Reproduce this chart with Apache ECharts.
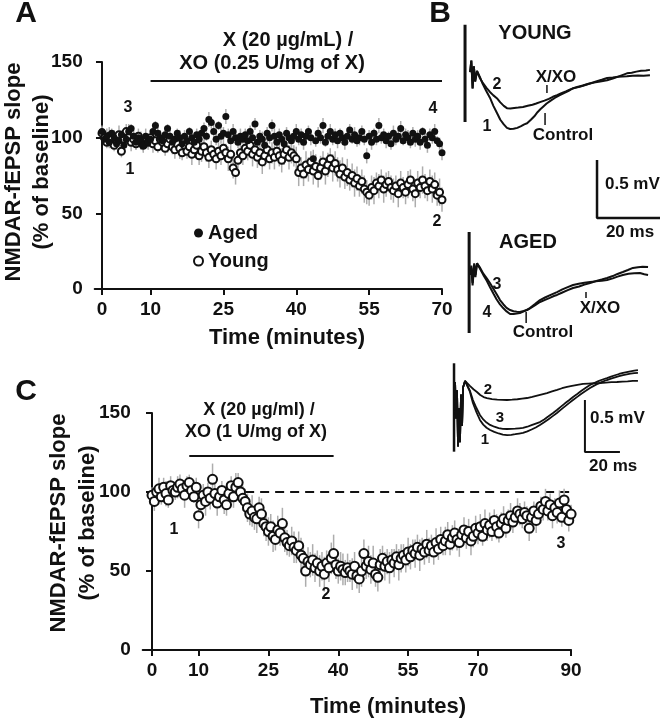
<!DOCTYPE html>
<html><head><meta charset="utf-8">
<script src="https://cdn.jsdelivr.net/npm/echarts@6/dist/echarts.min.js"></script>
<style>html,body{margin:0;padding:0;background:#fff}#c{width:667px;height:719px}</style>
</head><body><div id="c"></div>
<script>
// ---------- Panel A data (time step 0.5 min, 0..70) ----------
const tickA = [0, 10, 25, 40, 55, 70];
const yTicks = [0, 50, 100, 150];
const agedA = [
104,99,101,97,103,100,96,98,102,95,
99,104,106,101,97,100,98,95,101,97,
99,104,108,103,100,98,102,106,101,97,
99,103,100,96,101,98,104,100,97,102,
99,103,106,101,112,110,104,99,108,101,
103,114,102,98,104,100,97,101,99,102,
98,104,100,109,97,101,99,95,103,100,
108,101,97,102,99,96,103,100,98,101,
104,99,102,97,101,104,100,86,98,103,
100,108,97,101,104,99,102,98,103,100,
97,101,105,99,102,98,100,104,99,88,
101,97,103,99,108,100,102,98,101,96,
103,99,101,106,98,102,100,97,103,99,
101,97,104,99,95,102,100,104,98,96,90];
const agedErrA = [
4,3,5,4,3,5,4,4,3,5, 4,5,3,4,5,4,3,4,5,4, 5,4,3,5,4,4,5,3,4,5, 4,3,5,4,4,5,3,4,5,4,
5,4,4,3,5,4,5,4,3,5, 4,5,4,3,5,4,4,5,3,4, 5,4,3,4,5,4,5,3,4,4, 4,5,4,4,3,5,4,4,5,3,
5,4,4,5,3,4,5,6,4,4, 4,5,3,4,5,4,4,5,3,4, 5,4,4,3,5,4,5,4,4,5, 4,5,3,4,5,4,4,5,3,4,
5,4,4,5,3,4,5,4,4,5, 4,5,3,4,5,4,4,5,3,4,5];
const youngA = [
103,100,97,101,99,95,98,102,91,99,
104,100,97,99,96,101,98,95,99,97,
100,96,98,94,99,97,93,96,99,94,
92,96,93,90,95,91,94,89,92,95,
88,91,94,90,87,92,89,86,91,88,
93,90,86,89,80,77,85,90,88,93,
91,95,89,92,87,90,84,88,92,86,
90,87,91,88,85,89,92,87,90,88,
86,77,80,76,82,79,84,78,81,75,
80,84,78,82,86,80,83,79,76,80,
74,77,72,75,70,73,68,71,66,64,
62,67,65,70,68,72,66,69,71,67,
65,68,63,70,67,64,69,72,66,63,
70,67,72,68,65,71,66,69,62,64,59];
const youngErrA = [
4,5,4,6,5,4,5,6,4,5, 5,4,6,5,4,5,6,5,4,5, 5,6,5,4,6,5,5,6,4,5, 6,5,7,5,6,5,6,7,5,6,
6,7,5,6,7,6,5,7,6,6, 7,6,8,6,7,8,6,7,6,7, 6,7,8,6,7,6,8,7,6,7, 7,8,6,7,8,7,6,8,7,7,
8,9,7,8,9,8,7,9,8,8, 8,7,9,8,7,9,8,8,9,7, 8,9,7,8,9,8,7,8,9,8, 7,8,9,7,8,7,9,8,7,8,
8,7,9,8,7,8,9,7,8,9, 8,7,9,8,7,8,9,8,7,9,8];
const drugA = [10, 70];
const drugALevel = 137.5;

// ---------- Panel C data (time step 0.5 min, 0..90) ----------
const tickC = [0, 10, 25, 40, 55, 70, 90];
const valC = [
98,94,100,102,97,103,99,95,104,101,
100,103,105,102,98,104,106,101,97,103,
85,92,98,94,100,96,108,99,93,97,
101,95,92,99,104,97,103,106,100,96,
94,90,86,88,84,83,90,86,80,78,
75,78,72,70,76,74,80,71,68,66,
69,65,63,66,60,58,50,56,54,57,
52,55,50,53,48,55,52,58,61,54,
50,53,51,49,52,50,48,53,47,45,
50,61,53,56,51,55,48,46,54,58,
53,56,52,57,55,59,54,58,60,57,
62,59,63,61,65,60,64,62,67,63,
66,62,68,64,70,66,69,73,67,71,
74,70,68,73,76,71,75,69,72,77,
74,78,72,80,76,79,75,82,78,74,
80,83,77,82,85,81,84,88,86,83,
87,85,77,84,88,82,86,91,89,94,
88,92,85,90,87,93,84,95,89,82,86];
const errC = [
5,6,4,7,5,6,8,5,6,4, 5,7,6,5,8,6,5,7,4,6,
8,6,7,9,6,7,10,6,8,7, 6,9,7,8,6,7,9,6,7,8,
8,9,7,10,8,9,7,10,8,9, 9,8,10,7,9,8,10,9,8,7,
9,10,8,9,11,8,10,9,8,10, 9,8,10,9,11,8,9,10,12,9,
8,9,10,8,9,7,10,9,8,9, 10,9,8,10,9,11,8,9,10,8,
9,8,10,7,9,8,10,9,7,8, 9,8,7,9,8,10,7,8,9,8,
7,8,9,7,8,6,9,8,7,8, 8,7,9,6,8,7,8,9,7,8,
7,8,6,9,7,8,6,7,8,6, 7,8,6,7,8,7,6,8,7,6,
7,6,8,7,6,8,7,6,7,8, 6,7,8,6,7,8,6,7,8,7,6];
const drugC = [8, 39];
const drugCLevel = 122.8;
const baselineC = [20, 91];
const baselineLevel = 100;

// ---------- Panel B traces (ms, mV) ----------
const stimYoung = [[1.6, 0.41], [1.6, -0.43]];
const youngControl = [[3.2,0],[3.6,0.1],[4.0,-0.14],[4.4,0.05],[4.8,-0.08],[5.4,0.01],[6.3,-0.04],[7.2,-0.1],[8.3,-0.16],[9.5,-0.22],[10.6,-0.29],[11.7,-0.35],[12.8,-0.41],[13.9,-0.45],[14.9,-0.48],[15.9,-0.49],[17,-0.488],[18.2,-0.48],[19.4,-0.465],[20.4,-0.45],[21.3,-0.44],[22.5,-0.41],[23.6,-0.38],[24.6,-0.345],[25.5,-0.32],[26.3,-0.3],[27.5,-0.27],[28.8,-0.245],[30.2,-0.22],[31.7,-0.197],[33,-0.18],[34.5,-0.16],[35.9,-0.138],[37.5,-0.125],[39,-0.115],[40.8,-0.1],[42.5,-0.09],[44.5,-0.08],[46.7,-0.07],[48.5,-0.055],[50,-0.04],[51.5,-0.025],[53,-0.01],[54.5,-0.005],[56,0.005],[57.5,0.012],[59,0.015],[60.3,0.02]];
const youngXXO = [[3.2,0],[3.6,0.1],[4.0,-0.14],[4.4,0.05],[4.8,-0.08],[5.4,0.01],[6.3,-0.05],[7.3,-0.095],[8.4,-0.135],[9.5,-0.17],[10.6,-0.2],[11.7,-0.224],[12.8,-0.26],[13.9,-0.29],[14.9,-0.31],[16,-0.312],[17.2,-0.308],[18.5,-0.305],[20,-0.3],[21.5,-0.29],[23,-0.28],[24.2,-0.27],[25.4,-0.258],[26.8,-0.245],[28.2,-0.23],[29.5,-0.212],[30.8,-0.197],[32.2,-0.18],[33.6,-0.165],[35,-0.148],[36.5,-0.135],[38,-0.125],[39.8,-0.11],[41.5,-0.095],[43.2,-0.08],[45,-0.065],[46.7,-0.05],[48.5,-0.045],[50.2,-0.04],[51.6,-0.038],[53,-0.035],[54.8,-0.03],[56.5,-0.028],[58.3,-0.03],[60.3,-0.026]];
const youngTickXXO = [[27.6, -0.11], [27.6, -0.18]];
const youngTickControl = [[27.0, -0.352], [27.0, -0.455]];
const stimAged = [[2.9, 0.39], [2.9, -0.48]];
const agedTrace3 = [[3.2,0.02],[3.6,0.1],[4.0,-0.05],[4.5,0.12],[4.9,0.02],[5.4,0.12],[6.4,0.08],[7.4,0.03],[8.5,-0.01],[9.5,-0.05],[10.6,-0.1],[11.7,-0.15],[12.7,-0.197],[13.8,-0.235],[14.8,-0.265],[15.9,-0.283],[17,-0.293],[18,-0.298],[19,-0.3],[20.2,-0.292],[21.3,-0.283],[22.6,-0.262],[24,-0.238],[25.4,-0.214],[27,-0.195],[28.5,-0.178],[30,-0.16],[30.8,-0.153],[32.5,-0.132],[34.2,-0.112],[35.9,-0.093],[37.8,-0.08],[39.5,-0.064],[41.3,-0.05],[43,-0.035],[45,-0.02],[46.7,-0.007],[48.5,0.01],[50,0.028],[51.7,0.045],[53.3,0.062],[54.9,0.08],[56.5,0.086],[58,0.09],[59.7,0.088]];
const agedTrace4 = [[3.2,0.02],[3.6,0.08],[4.0,-0.07],[4.5,0.1],[4.9,0],[5.4,0.12],[6.4,0.07],[7.4,0.02],[8.5,-0.03],[9.5,-0.084],[10.6,-0.14],[11.6,-0.19],[12.7,-0.235],[13.7,-0.266],[14.8,-0.295],[15.9,-0.317],[17,-0.318],[18,-0.314],[19,-0.309],[20.6,-0.29],[22.2,-0.266],[23.8,-0.232],[25.4,-0.197],[27,-0.175],[28.8,-0.152],[30.8,-0.128],[32.5,-0.105],[34.2,-0.085],[35.9,-0.067],[37.7,-0.057],[39.5,-0.048],[41.3,-0.041],[43,-0.036],[45,-0.03],[46.7,-0.024],[48.5,-0.01],[50,0.005],[51.7,0.019],[53.5,0.03],[55.3,0.034],[57.1,0.036],[58.5,0.025],[59.7,0.019]];
const agedTickControl = [[21.0, -0.30], [21.0, -0.395]];
const agedTickXXO = [[40.0, -0.128], [40.0, -0.179]];
const scaleB = {ms: 20, mv: 0.5, atMs: 43.5, atMv: -1.257};

// ---------- Panel C inset traces (ms, mV) ----------
const stimC = [[2.3, 0.18], [2.3, -0.67]];
const volleyC = [[2.9,0],[3.4,-0.35],[4.0,-0.08],[4.6,-0.62],[5.1,-0.25],[5.7,-0.58],[6.3,-0.12],[6.9,-0.42],[7.5,-0.05],[8.6,0.01],[9.7,0]];
const cTrace2 = [[11.5,-0.04],[13.4,-0.07],[15.4,-0.096],[17.3,-0.125],[19.2,-0.145],[21.1,-0.154],[24,-0.165],[27,-0.17],[30,-0.172],[32.6,-0.173],[35.5,-0.17],[38.5,-0.166],[41.2,-0.16],[44,-0.154],[47,-0.142],[49.8,-0.13],[52.6,-0.118],[55.4,-0.106],[58.3,-0.09],[61.2,-0.075],[64,-0.06],[66.9,-0.048],[69.7,-0.038],[72.8,-0.028],[76,-0.019],[79,-0.015],[82.4,-0.012],[85.7,-0.01],[89,-0.006],[92.2,-0.002],[95.4,0],[98.5,0.004],[101.5,0.006],[104.5,0.01],[107.4,0.01]];
const cTrace3 = [[11.3,-0.08],[13.1,-0.173],[15.1,-0.25],[17.1,-0.317],[19,-0.36],[20.9,-0.39],[22.9,-0.413],[25.3,-0.43],[27.8,-0.443],[30.2,-0.45],[32.6,-0.452],[35,-0.45],[37.3,-0.448],[39.5,-0.445],[41.7,-0.442],[44.2,-0.43],[46.6,-0.415],[49,-0.4],[51.4,-0.385],[53.8,-0.36],[56.3,-0.33],[58.7,-0.3],[61.1,-0.269],[63.4,-0.237],[65.7,-0.205],[68,-0.175],[70.3,-0.144],[72.7,-0.115],[75.1,-0.085],[77.6,-0.056],[80,-0.029],[82.4,-0.01],[84.8,0.008],[87.2,0.024],[89.7,0.038],[92,0.052],[94.3,0.065],[96.6,0.077],[98.9,0.087],[101,0.095],[103.1,0.103],[105.3,0.11],[107.4,0.115]];
const cTrace1 = [[11.3,-0.09],[13.1,-0.202],[15.1,-0.29],[17.1,-0.365],[19,-0.41],[20.9,-0.44],[22.9,-0.462],[25.3,-0.48],[27.8,-0.495],[30.2,-0.505],[32.6,-0.51],[35,-0.508],[37.3,-0.502],[39.5,-0.496],[41.7,-0.49],[44.2,-0.475],[46.6,-0.457],[49,-0.437],[51.4,-0.413],[53.8,-0.386],[56.3,-0.358],[58.7,-0.328],[61.1,-0.298],[63.4,-0.266],[65.7,-0.234],[68,-0.203],[70.3,-0.173],[72.7,-0.143],[75.1,-0.113],[77.6,-0.085],[80,-0.058],[82.4,-0.035],[84.8,-0.015],[87.2,0.003],[89.7,0.019],[92,0.032],[94.3,0.044],[96.6,0.056],[98.9,0.067],[101,0.074],[103.1,0.08],[105.3,0.085],[107.4,0.087]];
const scaleC = {ms: 20, mv: 0.5, atMs: 77.1, atMv: -0.673};

// ---------- build ----------
const FF = '"Liberation Sans", Arial, Helvetica, sans-serif';
const INK = '#111';
const ERR = '#adadad';
const tA = agedA.map((_, i) => i * 0.5);
const tC = valC.map((_, i) => i * 0.5);

function errRender(color) {
  return function (params, api) {
    const x = api.value(0), y = api.value(1), e = api.value(2);
    const a = api.coord([x, y - e]), b = api.coord([x, y + e]);
    return {type: 'line', shape: {x1: a[0], y1: a[1], x2: b[0], y2: b[1]},
            style: {stroke: color, lineWidth: 1.5}};
  };
}
function seg(gi, data, width, extra) {
  return Object.assign({type: 'line', xAxisIndex: gi, yAxisIndex: gi, data: data,
    symbol: 'none', showSymbol: false, silent: true, clip: false, z: 5,
    lineStyle: {color: INK, width: width}}, extra || {});
}
function visX(gi, min, max, ticks) {
  return {gridIndex: gi, type: 'value', min: min, max: max,
    axisLine: {onZero: true, lineStyle: {color: INK, width: 2}},
    axisTick: {customValues: ticks, length: 6, lineStyle: {color: INK, width: 2}},
    axisLabel: {customValues: ticks, color: INK, fontSize: 19, fontWeight: 'bold', fontFamily: FF, margin: 11},
    splitLine: {show: false}};
}
function visY(gi) {
  return {gridIndex: gi, type: 'value', min: 0, max: 150,
    axisLine: {onZero: true, lineStyle: {color: INK, width: 2}},
    axisTick: {customValues: yTicks, length: 6, lineStyle: {color: INK, width: 2}},
    axisLabel: {customValues: yTicks, color: INK, fontSize: 19, fontWeight: 'bold', fontFamily: FF, margin: 12},
    splitLine: {show: false}};
}
function hid(gi, min, max) { return {gridIndex: gi, type: 'value', min: min, max: max, show: false}; }
function txt(text, x, y, size, opt) {
  opt = opt || {};
  return {type: 'text', x: x, y: y, rotation: opt.rot || 0, z: 20,
    style: {text: text, fill: INK, font: 'bold ' + size + 'px ' + FF,
      align: opt.align || 'center', verticalAlign: 'middle'}};
}

const option = {
  animation: false,
  backgroundColor: '#fff',
  grid: [
    {left: 94.7, top: 62, width: 347.3, height: 227},      // A
    {left: 460, top: 20, width: 204.75, height: 203},      // B young
    {left: 460, top: 225, width: 204.75, height: 116},     // B aged
    {left: 142.7, top: 413, width: 428.4, height: 237},    // C
    {left: 450, top: 361.2, width: 192.5, height: 93.6}    // C inset
  ],
  xAxis: [visX(0, -1.5, 70, tickA), hid(1, 0, 65), hid(2, 0, 65), visX(3, -2, 90, tickC), hid(4, 0, 110)],
  yAxis: [visY(0), hid(1, -1.3, 0.45), hid(2, -0.55, 0.45), visY(3), hid(4, -0.7, 0.2)],
  legend: {
    data: ['Aged', 'Young'], orient: 'vertical', left: 188, top: 218,
    itemWidth: 9, itemHeight: 9, itemGap: 8,
    textStyle: {color: INK, fontSize: 20, fontWeight: 'bold', fontFamily: FF}
  },
  series: [
    {type: 'custom', name: 'errYoung', xAxisIndex: 0, yAxisIndex: 0, z: 1, silent: true,
      renderItem: errRender(ERR), encode: {x: 0, y: 1},
      data: youngA.map((v, i) => [tA[i], v, youngErrA[i]])},
    {type: 'custom', name: 'errAged', xAxisIndex: 0, yAxisIndex: 0, z: 1, silent: true,
      renderItem: errRender(ERR), encode: {x: 0, y: 1},
      data: agedA.map((v, i) => [tA[i], v, agedErrA[i]])},
    {type: 'scatter', name: 'Young', xAxisIndex: 0, yAxisIndex: 0, z: 2,
      symbol: 'emptyCircle', symbolSize: 7,
      itemStyle: {color: INK, borderWidth: 1.3, opacity: 1},
      data: youngA.map((v, i) => [tA[i], v])},
    {type: 'scatter', name: 'Aged', xAxisIndex: 0, yAxisIndex: 0, z: 3,
      symbol: 'circle', symbolSize: 7, itemStyle: {color: INK, opacity: 1},
      data: agedA.map((v, i) => [tA[i], v])},
    seg(0, drugA.map(t => [t, drugALevel]), 2),

    seg(1, stimYoung, 3), seg(1, youngControl, 2), seg(1, youngXXO, 2),
    seg(1, youngTickXXO, 1.5), seg(1, youngTickControl, 1.5),
    seg(1, [[scaleB.atMs, scaleB.atMv + scaleB.mv], [scaleB.atMs, scaleB.atMv], [scaleB.atMs + scaleB.ms, scaleB.atMv]], 2.5),
    seg(2, stimAged, 3), seg(2, agedTrace3, 2), seg(2, agedTrace4, 2),
    seg(2, agedTickControl, 1.5), seg(2, agedTickXXO, 1.5),

    {type: 'custom', name: 'errC', xAxisIndex: 3, yAxisIndex: 3, z: 1, silent: true,
      renderItem: errRender(ERR), encode: {x: 0, y: 1},
      data: valC.map((v, i) => [tC[i], v, errC[i]])},
    {type: 'scatter', name: 'C', xAxisIndex: 3, yAxisIndex: 3, z: 3,
      symbol: 'emptyCircle', symbolSize: 9,
      itemStyle: {color: INK, borderWidth: 1.7, opacity: 1},
      data: valC.map((v, i) => [tC[i], v])},
    seg(3, drugC.map(t => [t, drugCLevel]), 2),
    seg(3, baselineC.map(t => [t, baselineLevel]), 2, {lineStyle: {color: INK, width: 2, type: [9, 6]}, z: 0}),

    seg(4, stimC, 2.5), seg(4, volleyC.concat(cTrace2), 1.8), seg(4, volleyC.concat(cTrace3), 1.8), seg(4, volleyC.concat(cTrace1), 1.8),
    seg(4, [[scaleC.atMs, scaleC.atMv + scaleC.mv], [scaleC.atMs, scaleC.atMv], [scaleC.atMs + scaleC.ms, scaleC.atMv]], 2)
  ],
  graphic: [
    txt('A', 26, 14, 30), txt('B', 440, 14, 30), txt('C', 26, 392, 30),
    // Panel A
    txt('X (20 µg/mL) /', 288, 40, 20), txt('XO (0.25 U/mg of X)', 272, 63, 20),
    txt('3', 128, 108, 16), txt('1', 130, 170, 16), txt('4', 433, 109, 16), txt('2', 437, 222, 16),
    txt('NMDAR-fEPSP slope', 14, 172, 22, {rot: Math.PI / 2}),
    txt('(% of baseline)', 42, 172, 22, {rot: Math.PI / 2}),
    txt('Time (minutes)', 287, 338, 22),
    // Panel B
    txt('YOUNG', 535, 33, 20), txt('X/XO', 556, 77, 17), txt('2', 497, 85, 16), txt('1', 487, 127, 16),
    txt('Control', 563, 135, 17),
    txt('0.5 mV', 605, 184, 17, {align: 'left'}), txt('20 ms', 630, 232, 17),
    txt('AGED', 528, 242, 20), txt('3', 497, 285, 16), txt('4', 487, 313, 16),
    txt('Control', 543, 332, 17), txt('X/XO', 600, 308, 17),
    // Panel C
    txt('X (20 µg/ml) /', 259, 410, 18), txt('XO (1 U/mg of X)', 256, 432, 18),
    txt('1', 174, 530, 16), txt('2', 326, 595, 16), txt('3', 561, 544, 16),
    txt('NMDAR-fEPSP slope', 59, 523, 22, {rot: Math.PI / 2}),
    txt('(% of baseline)', 88, 523, 22, {rot: Math.PI / 2}),
    txt('Time (minutes)', 388, 707, 22),
    txt('2', 488, 390, 15), txt('3', 500, 418, 15), txt('1', 485, 440, 15),
    txt('0.5 mV', 590, 418, 17, {align: 'left'}), txt('20 ms', 589, 466, 17, {align: 'left'})
  ]
};
const chart = echarts.init(document.getElementById('c'), null, {renderer: 'canvas'});
chart.setOption(option);
</script></body></html>
